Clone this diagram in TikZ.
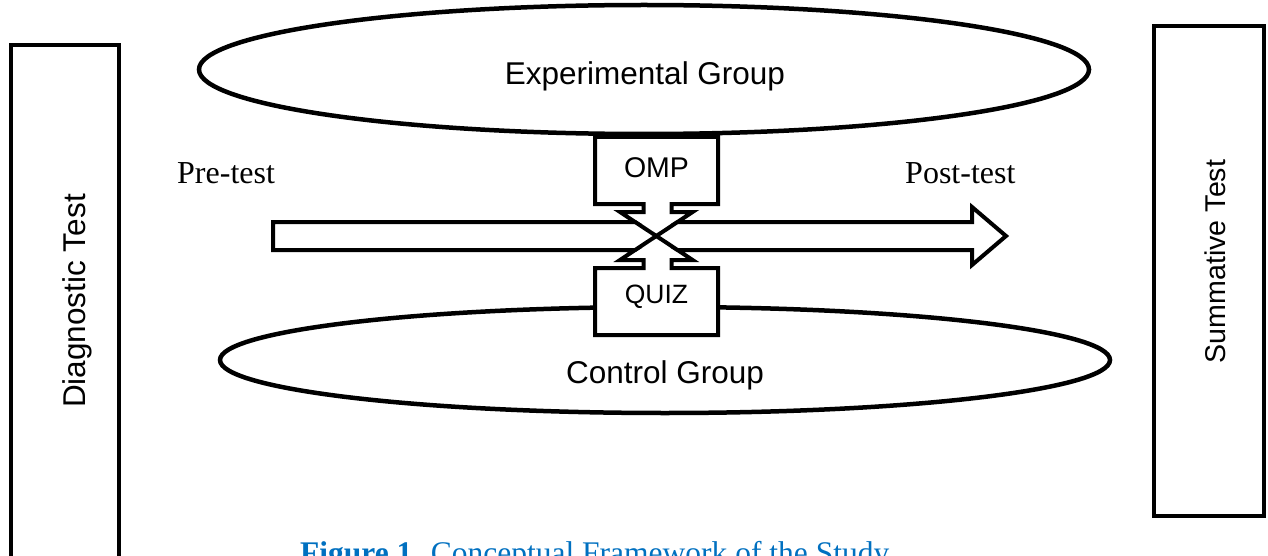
\documentclass[tikz,border=0pt]{standalone}
\usepackage{fontspec}
\setmainfont{Liberation Serif}
\setsansfont{Liberation Sans}
\definecolor{capblue}{HTML}{0070C0}
\tikzset{
  outline/.style={draw=black, line width=4pt},
  grp/.style={draw=black, line width=4.5pt},
  lbl/.style={inner sep=0pt, font=\sffamily\fontsize{31.5}{36}\selectfont},
  serifl/.style={inner sep=0pt, anchor=base west, font=\fontsize{32}{36}\selectfont},
}
\begin{document}
\begin{tikzpicture}[x=1pt,y=-1pt]
\useasboundingbox (0,0) rectangle (1268,556);
\clip (0,0) rectangle (1268,556);
\fill[white] (0,0) rectangle (1268,556);
% side boxes
\draw[outline] (10.7,45.5) rectangle (119,620);
\draw[outline] (1154,26) rectangle (1264,516);
\node[lbl, rotate=90, anchor=base] (diag) at (85,301) {Diagnostic Test};
\node[lbl, rotate=90, anchor=base, font=\sffamily\fontsize{28.6}{32}\selectfont] (summ) at (1225,261.5) {Summative Test};
% group ellipses
\draw[grp] (644,69.5) ellipse [x radius=445, y radius=64.5];
\draw[grp] (665,360) ellipse [x radius=445, y radius=53];
\node[lbl, anchor=base] (exp) at (645,85) {Experimental Group};
\node[lbl, anchor=base] (ctrl) at (665,383) {Control Group};
% block arrow with OMP / QUIZ boxes and the crossing
\filldraw[outline, fill=white]
  (273,222) -- (635.1,222) -- (620,212) -- (643.5,212) -- (643.5,204)
  -- (595,204) -- (595,137) -- (718,137) -- (718,204) -- (671.5,204)
  -- (671.5,212) -- (692.6,212) -- (677.5,222) -- (972,222) -- (972,207)
  -- (1006,236) -- (972,265) -- (972,250) -- (677.5,250) -- (692.6,260)
  -- (671.5,260) -- (671.5,268) -- (718,268) -- (718,335) -- (595,335)
  -- (595,268) -- (643.5,268) -- (643.5,260) -- (620,260) -- (635.1,250)
  -- (273,250) -- cycle;
\draw[outline] (635.1,222) -- (677.5,250);
\draw[outline] (677.5,222) -- (635.1,250);
\node[lbl, anchor=base, font=\sffamily\fontsize{28.5}{32}\selectfont] (omp) at (656.5,177.7) {OMP};
\node[lbl, anchor=base, font=\sffamily\fontsize{26.5}{30}\selectfont] (quiz) at (656.4,303.3) {QUIZ};
% labels
\node[serifl] (pre) at (177,184) {Pre-test};
\node[serifl] (post) at (905,183) {Post-test};
% caption
\node[inner sep=0pt, anchor=base west, text=capblue, font=\fontsize{31.5}{36}\selectfont] (cap) at (300,563) {\textbf{Figure 1.} Conceptual Framework of the Study};
\end{tikzpicture}
\end{document}
